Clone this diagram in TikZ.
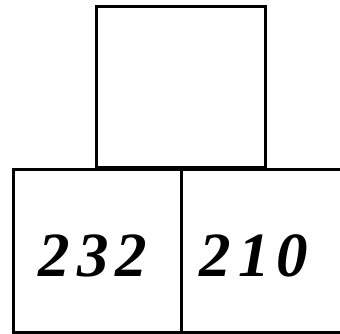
\documentclass[tikz,border=0pt]{standalone}
\usepackage{fontspec}
\setmainfont{Liberation Serif}
\begin{document}
\begin{tikzpicture}[x=1pt,y=1pt,
  cell/.style={draw=black,line width=3pt,minimum width=#1,minimum height=163pt,inner sep=0pt,anchor=center},
  num/.style={font=\fontsize{63}{63}\selectfont\bfseries\itshape\addfontfeatures{LetterSpace=11},inner sep=0pt}]
\useasboundingbox (0,0) rectangle (340,334);
\clip (0,0) rectangle (340,334);
\node[cell=169pt,minimum height=161pt] (top) at (180.5,246.5) {};
\node[cell=168pt] (left) at (97,83) {};
\node[cell=169pt] (right) at (265.5,83) {};
\node[num] (a) at (93,78) {232};
\node[num] (b) at (254,78) {210};
\end{tikzpicture}
\end{document}
